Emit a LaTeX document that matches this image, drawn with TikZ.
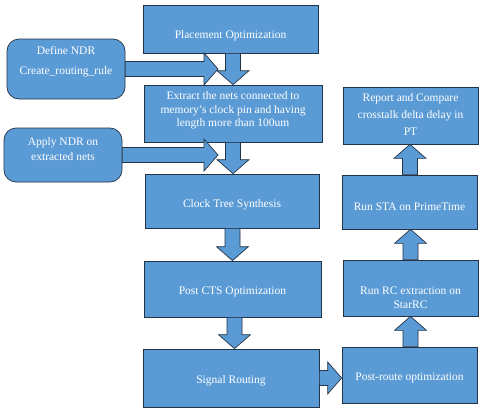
\documentclass[tikz,border=0pt]{standalone}
\usepackage{fontspec}
\setmainfont{Liberation Serif}
\usetikzlibrary{calc}
\definecolor{boxfill}{HTML}{5B9BD5}
\definecolor{boxline}{HTML}{243447}
\newcommand\vblk[2]{\draw[blk] let \p1=(#1), \p2=(#2), \n1={14*sign(\y2-\y1)} in
  (\x1-7.5pt,\y1) -- (\x1-7.5pt,{\y2-(\n1)}) -- (\x1-16pt,{\y2-(\n1)}) -- (\x1,\y2)
  -- (\x1+16pt,{\y2-(\n1)}) -- (\x1+7.5pt,{\y2-(\n1)}) -- (\x1+7.5pt,\y1) -- cycle;}
\newcommand\hblk[2]{\draw[blk] let \p1=(#1), \p2=(#2), \n1={14*sign(\x2-\x1)} in
  (\x1,\y1+7.5pt) -- ({\x2-(\n1)},\y1+7.5pt) -- ({\x2-(\n1)},\y1+16pt) -- (\x2,\y1)
  -- ({\x2-(\n1)},\y1-16pt) -- ({\x2-(\n1)},\y1-7.5pt) -- (\x1,\y1-7.5pt) -- cycle;}
\begin{document}
\begin{tikzpicture}[x=1pt,y=-1pt,
  box/.style={draw=boxline, fill=boxfill, line width=0.7pt, inner sep=0pt},
  rbox/.style={box, rounded corners=12pt},
  txt/.style={text=white, align=center, font=\fontsize{11.5}{13.5}\selectfont, inner sep=0pt},
  blk/.style={draw=boxline, fill=boxfill, line width=0.7pt, line join=miter}]
\fill[white] (0,0) rectangle (480,410);
\useasboundingbox (0,0) rectangle (480,410);
% boxes
\node[box, minimum width=175pt, minimum height=48pt] (P) at (230.5,29) {};
\node[box, minimum width=178pt, minimum height=57pt] (E) at (233,113.5) {};
\node[rbox, minimum width=118pt, minimum height=60pt] (D) at (66,69) {};
\node[rbox, minimum width=118pt, minimum height=54pt] (A) at (63,155) {};
\node[box, minimum width=174pt, minimum height=54pt] (C) at (232,201) {};
\node[box, minimum width=177pt, minimum height=56pt] (O) at (232.5,289) {};
\node[box, minimum width=176pt, minimum height=58pt] (S) at (231,378) {};
\node[box, minimum width=135pt, minimum height=56pt] (R) at (409.5,375) {};
\node[box, minimum width=135pt, minimum height=56pt] (X) at (410.5,288) {};
\node[box, minimum width=135pt, minimum height=54pt] (T) at (409.5,202) {};
\node[box, minimum width=135pt, minimum height=57pt] (M) at (410.5,115.5) {};
% texts
\node[txt] (Pt) at ([yshift=-7pt]P.center) {Placement Optimization};
\node[txt] (Et) at ([yshift=3pt]E.center) {Extract the nets connected to\\memory's clock pin and having\\length more than 100um};
\node[txt, font=\fontsize{11.5}{20}\selectfont] (Dt) at ([yshift=7pt]D.center) {Define NDR\\Create\_routing\_rule};
\node[txt, font=\fontsize{11.5}{14.5}\selectfont] (At) at ([yshift=6pt]A.center) {Apply NDR on\\extracted nets};
\node[txt] (Ct) at ([yshift=-4pt]C.center) {Clock Tree Synthesis};
\node[txt] (Ot) at ([yshift=-3pt]O.center) {Post CTS Optimization};
\node[txt] (St) at ([yshift=-3pt]S.center) {Signal Routing};
\node[txt] (Rt) at ([yshift=-3pt]R.center) {Post-route optimization};
\node[txt, font=\fontsize{11.5}{14}\selectfont] (Xt) at ([yshift=-10pt]X.center) {Run RC extraction on\\StarRC};
\node[txt] (Tt) at ([yshift=-5pt]T.center) {Run STA on PrimeTime};
\node[txt, font=\fontsize{11.5}{17}\selectfont] (Mt) at ([yshift=1pt]M.center) {Report and Compare\\crosstalk delta delay in\\PT};
% free ends of side arrows
\coordinate (d1) at (218,69);
\coordinate (a1) at (218,155);
% block arrows
\hblk{D.east}{d1}
\hblk{A.east}{a1}
\vblk{[xshift=2.5pt]P.south}{[xshift=2.5pt]P.south |- E.north}
\vblk{E.south}{E.south |- C.north}
\vblk{[xshift=0.5pt]C.south}{[xshift=0.5pt]C.south |- O.north}
\vblk{[xshift=2pt]O.south}{[xshift=2pt]O.south |- S.north}
\hblk{S.east}{R.west |- S.east}
\vblk{[xshift=1pt]R.north}{[xshift=1pt]R.north |- X.south}
\vblk{X.north}{X.north |- T.south}
\vblk{[xshift=0.5pt]T.north}{[xshift=0.5pt]T.north |- M.south}
\end{tikzpicture}
\end{document}
